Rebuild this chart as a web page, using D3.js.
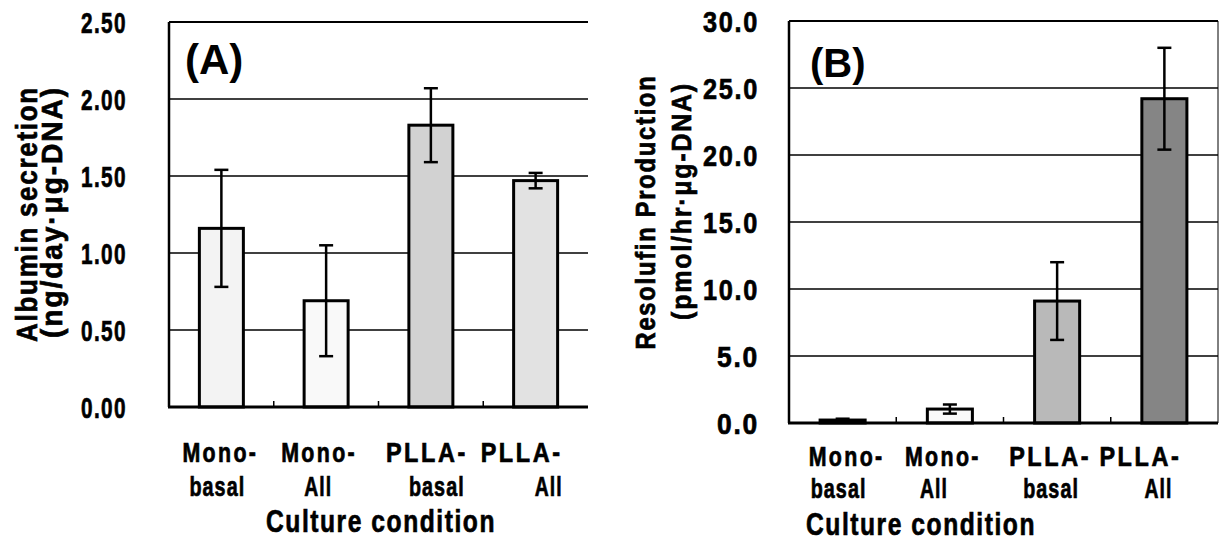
<!DOCTYPE html>
<html>
<head>
<meta charset="utf-8">
<style>
  body { margin: 0; background: #fff; }
  svg text { font-family: "Liberation Sans", Arial, sans-serif; font-weight: bold; fill: #000; }
  svg text.heavy { stroke: #000; stroke-width: 0.7px; }
</style>
</head>
<body>
<svg id="chart" width="1221" height="552"></svg>
<script src="https://d3js.org/d3.v7.min.js"></script>
<script>
// categories (two text lines each)
var catLine1 = ["Mono-", "Mono-", "PLLA-", "PLLA-"];
var catLine2 = ["basal", "All", "basal", "All"];
var catKeys = ["Mono-basal", "Mono-All", "PLLA-basal", "PLLA-All"];

// (A) albumin secretion
var albuminMean = [1.16, 0.69, 1.83, 1.47];
var albuminErr  = [0.38, 0.36, 0.24, 0.05];
var albuminTicks = [0, 0.5, 1.0, 1.5, 2.0, 2.5];

// (B) resorufin production
var resorufinMean = [0.22, 1.04, 9.1, 24.2];
var resorufinErr  = [0.1, 0.34, 2.9, 3.8];
var resorufinTicks = [0, 5, 10, 15, 20, 25, 30];

var svg = d3.select("#chart");

// the original uses a condensed bold face; squeeze glyphs horizontally
var wordWidth = {"Mono-": 76, "PLLA-": 82, "basal": 56, "All": 28};

// place a text at (x,y), optional rotation, scaled horizontally to width w
function squeezed(g, str, x, y, size, w, anchor, rot, spacing) {
    var t = g.append("text")
        .attr("class", "heavy")
        .attr("text-anchor", anchor || "start")
        .style("font-size", size + "px")
        .style("letter-spacing", (spacing || 0) + "px")
        .text(str);
    var natural = t.node().getComputedTextLength();
    var sx = w ? w / natural : 1;
    t.attr("transform", "translate(" + x + "," + y + ")" + (rot ? " rotate(" + rot + ")" : "") + " scale(" + sx + ",1)");
    return t;
}

function drawPanel(cfg) {
    var x = d3.scaleBand()
        .domain(catKeys)
        .range([cfg.left, cfg.right])
        .paddingInner(0.58)
        .paddingOuter(0.29);
    var y = d3.scaleLinear()
        .domain([0, cfg.ticks[cfg.ticks.length - 1]])
        .range([cfg.bottom, cfg.top]);

    var g = svg.append("g");

    // gridlines
    g.selectAll("line.grid")
        .data(cfg.ticks.slice(1, -1))
        .enter().append("line")
        .attr("x1", cfg.left).attr("x2", cfg.right)
        .attr("y1", d => y(d)).attr("y2", d => y(d))
        .attr("stroke", "#000").attr("stroke-width", 1.5);

    // frame top
    var topVal = cfg.ticks[cfg.ticks.length - 1];
    g.append("line")
        .attr("x1", cfg.left).attr("x2", cfg.right)
        .attr("y1", y(topVal)).attr("y2", y(topVal))
        .attr("stroke", "#000").attr("stroke-width", 2);
    if (cfg.rightBorder) {
        g.append("line")
            .attr("x1", cfg.right).attr("x2", cfg.right)
            .attr("y1", cfg.top).attr("y2", cfg.bottom)
            .attr("stroke", "#000").attr("stroke-width", 1);
    }

    var data = cfg.mean.map((m, i) => ({key: catKeys[i], m: m, e: cfg.err[i], fill: cfg.fills[i]}));

    // bars
    g.selectAll("rect.bar")
        .data(data)
        .enter().append("rect")
        .attr("x", d => x(d.key))
        .attr("width", x.bandwidth())
        .attr("y", d => y(d.m))
        .attr("height", d => y(0) - y(d.m))
        .attr("fill", d => d.fill)
        .attr("stroke", "#000")
        .attr("stroke-width", 3);

    // error bars
    var cx = d => x(d.key) + x.bandwidth() / 2;
    var eb = g.selectAll("g.err").data(data).enter().append("g");
    eb.append("line")
        .attr("x1", cx).attr("x2", cx)
        .attr("y1", d => y(d.m + d.e))
        .attr("y2", d => y(Math.max(0, d.m - d.e)))
        .attr("stroke", "#000").attr("stroke-width", 2.5);
    [1, -1].forEach(function (s) {
        eb.append("line")
            .attr("x1", d => cx(d) - 7)
            .attr("x2", d => cx(d) + 7)
            .attr("y1", d => y(Math.max(0, d.m + s * d.e)))
            .attr("y2", d => y(Math.max(0, d.m + s * d.e)))
            .attr("stroke", "#000").attr("stroke-width", 2.5);
    });

    // left and bottom axis lines
    g.append("line")
        .attr("x1", cfg.left).attr("x2", cfg.left)
        .attr("y1", cfg.top).attr("y2", cfg.bottom)
        .attr("stroke", "#000").attr("stroke-width", 2.5);
    g.append("line")
        .attr("x1", cfg.left - 1).attr("x2", cfg.right)
        .attr("y1", cfg.bottom).attr("y2", cfg.bottom)
        .attr("stroke", "#000").attr("stroke-width", 3);

    // small inward ticks at category boundaries
    g.selectAll("line.xtick")
        .data(catKeys.slice(1))
        .enter().append("line")
        .attr("x1", d => x(d) - x.step() * x.paddingInner() / 2)
        .attr("x2", d => x(d) - x.step() * x.paddingInner() / 2)
        .attr("y1", cfg.bottom).attr("y2", cfg.bottom - 6)
        .attr("stroke", "#000").attr("stroke-width", 1.5);

    // y tick labels
    cfg.ticks.forEach(function (d) {
        var s = cfg.fmt(d);
        squeezed(g, s, cfg.tickX, y(d) + 11, 30, s.length * cfg.charW, "end", 0, 2);
    });

    // category labels
    catKeys.forEach(function (k, i) {
        squeezed(g, catLine1[i], cx({key: k}) + cfg.cat1Dx[i], cfg.cat1Y, 27, wordWidth[catLine1[i]], "middle", 0, 3);
        squeezed(g, catLine2[i], cx({key: k}) + cfg.cat2Dx[i], cfg.cat2Y, 27, wordWidth[catLine2[i]], "middle", 0, 1.5);
    });

    // x title
    squeezed(g, "Culture condition", cfg.xTitleX, cfg.xTitleY, 32, 230, "middle", 0, 2);

    // y title (two lines)
    cfg.yTitle.forEach(function (t) {
        squeezed(g, t.text, t.x, t.cy, t.size, t.len, "middle", -90, 2);
    });

    // panel tag
    g.append("text")
        .attr("x", cfg.tag.x)
        .attr("y", cfg.tag.y)
        .style("font-size", cfg.tag.size + "px")
        .text(cfg.tag.text);
}

drawPanel({
    left: 169, right: 588, top: 22, bottom: 407,
    mean: albuminMean, err: albuminErr, ticks: albuminTicks,
    fmt: d3.format(".2f"), tickX: 127, charW: 11.5,
    fills: ["#f3f3f3", "#f9f9f9", "#d2d2d2", "#e2e2e2"],
    cat1Y: 462, cat2Y: 496, cat1Dx: [-1, -7, -4, -14], cat2Dx: [-4, -8, 6, 13],
    xTitleX: 381, xTitleY: 532,
    yTitle: [
        {text: "Albumin secretion", x: 37, cy: 214, len: 256, size: 30},
        {text: "(ng/day\u00b7\u03bcg-DNA)", x: 62, cy: 212, len: 252, size: 30}
    ],
    tag: {text: "(A)", x: 185, y: 74, size: 42},
    rightBorder: false
});

drawPanel({
    left: 789, right: 1218, top: 21, bottom: 423,
    mean: resorufinMean, err: resorufinErr, ticks: resorufinTicks,
    fmt: d3.format(".1f"), tickX: 759, charW: 14,
    fills: ["#444444", "#f9f9f9", "#b9b9b9", "#858585"],
    cat1Y: 466, cat2Y: 498, cat1Dx: [4, -7, -7, -24], cat2Dx: [-4, -16, -6, -6],
    xTitleX: 921, xTitleY: 535,
    yTitle: [
        {text: "Resolufin Production", x: 655, cy: 212, len: 275, size: 27},
        {text: "(pmol/hr\u00b7\u03bcg-DNA)", x: 691, cy: 201, len: 238, size: 28}
    ],
    tag: {text: "(B)", x: 810, y: 77, size: 40},
    rightBorder: true
});
</script>
</body>
</html>
